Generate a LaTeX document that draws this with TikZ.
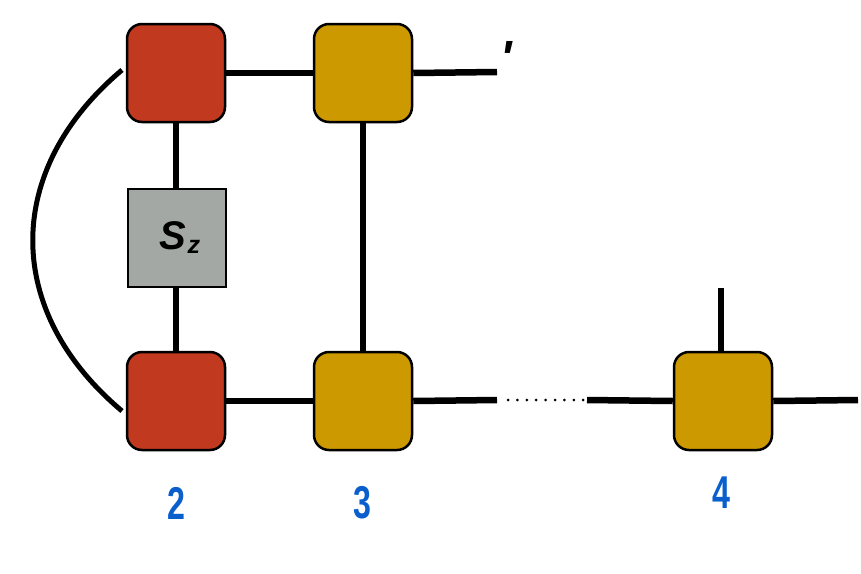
\documentclass[tikz,border=0pt]{standalone}
\usepackage{fontspec}
\setmainfont{Liberation Sans}
\definecolor{tred}{HTML}{C1391F}
\definecolor{tyel}{HTML}{CC9900}
\definecolor{tgray}{HTML}{A3A8A5}
\definecolor{tblue}{HTML}{0A5FCC}
\begin{document}
\begin{tikzpicture}[x=1pt,y=-1pt,
  tensor/.style={draw=black,line width=2.5pt,minimum size=98pt,inner sep=0pt,rounded corners=15pt},
  redbox/.style={tensor,fill=tred},
  yelbox/.style={tensor,fill=tyel},
  graybox/.style={draw=black,line width=2.5pt,minimum size=98pt,inner sep=0pt,fill=tgray},
  leg/.style={line width=6.5pt},
  lbl/.style={text=tblue,font=\fontsize{46}{46}\selectfont\bfseries,xscale=0.7}
]
\useasboundingbox (0,0) rectangle (861,573);
% nodes
\node[redbox] (r1) at (176,73) {};
\node[yelbox] (y1) at (363,73) {};
\node[graybox] (sz) at (177,238) {\hspace*{6pt}\fontsize{40}{40}\selectfont\bfseries\itshape S\kern1pt\raisebox{-4pt}{\fontsize{25}{25}\selectfont z}};
\node[redbox] (r2) at (176,401) {};
\node[yelbox] (y2) at (363,401) {};
\node[yelbox] (y3) at (723,401) {};
% free ends
\coordinate (e1) at (497,72);
\coordinate (e2) at (497,400);
\coordinate (e3) at (587,400);
\coordinate (e4) at (858,400);
\coordinate (e5) at (721,288);
\coordinate (a1) at (122,70);
\coordinate (a2) at (122,411);
% legs
\draw[leg] (r1.east) -- (y1.west);
\draw[leg] (y1.east) -- (e1);
\draw[leg] (r1.south) -- (sz.north -| r1.south);
\draw[leg] (sz.south -| r2.north) -- (r2.north);
\draw[leg] (y1.south) -- (y2.north);
\draw[leg] (r2.east) -- (y2.west);
\draw[leg] (y2.east) -- (e2);
\draw[leg] (e3) -- (y3.west);
\draw[leg] (y3.east) -- (e4);
\draw[leg] (e5) -- (y3.north -| e5);
\draw[line width=5pt] (a1) .. controls (3,170) and (3,311) .. (a2);
% dots
\foreach \i in {0,...,8} \fill (508+\i*9.4,400) circle (1.5pt);
% labels
\node[font=\fontsize{48}{48}\selectfont\bfseries\itshape] (pr) at (506,58) {\textquotesingle};
\node[lbl] (l2) at (176,503) {2};
\node[lbl] (l3) at (362,503) {3};
\node[lbl] (l4) at (721,493) {4};
\end{tikzpicture}
\end{document}
